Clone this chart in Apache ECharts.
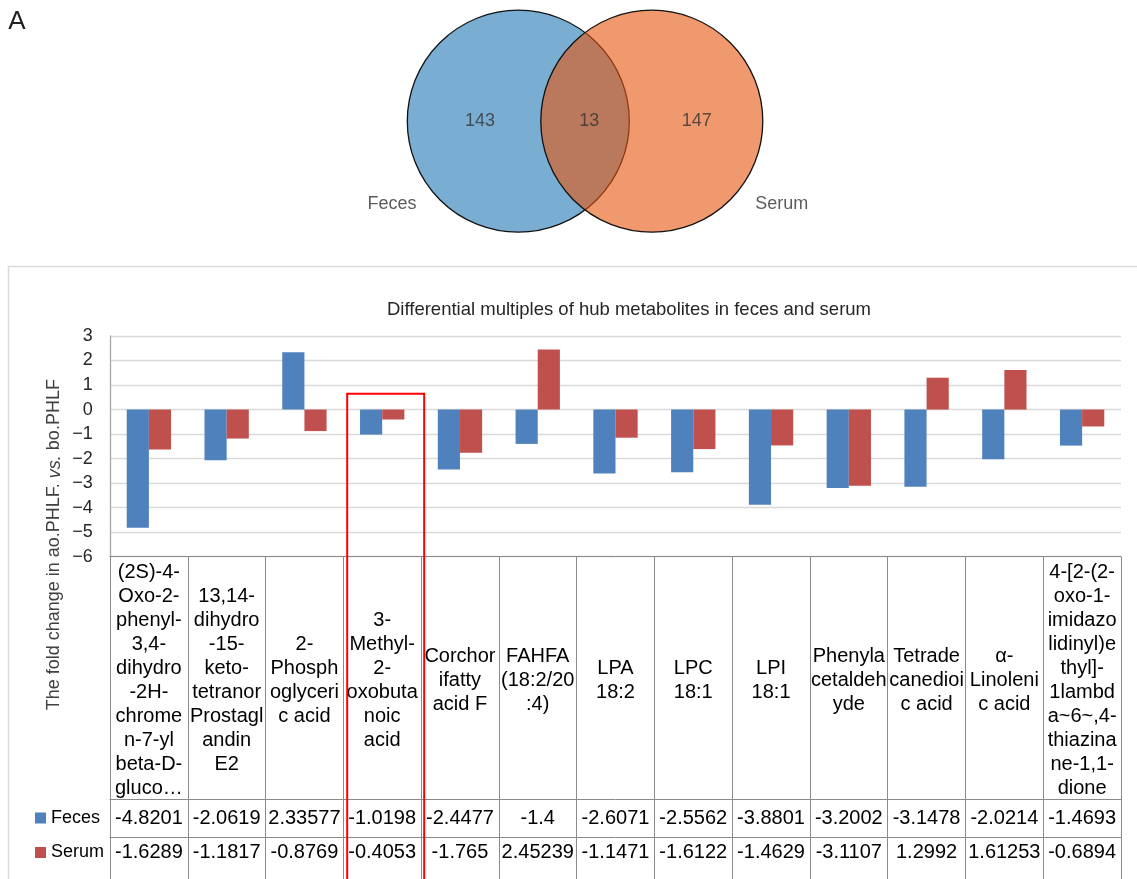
<!DOCTYPE html>
<html>
<head>
<meta charset="utf-8">
<title>Hub metabolites in feces and serum</title>
<script src="https://cdn.jsdelivr.net/npm/echarts@6.0.0/dist/echarts.min.js"></script>
<style>
  html, body { margin: 0; padding: 0; background: #ffffff; }
  #main { width: 1137px; height: 879px; }
</style>
</head>
<body>
<div id="main"></div>
<script>
// ---- data ----
const categories = [
  '(2S)-4-\nOxo-2-\nphenyl-\n3,4-\ndihydro\n-2H-\nchrome\nn-7-yl\nbeta-D-\ngluco\u2026',
  '13,14-\ndihydro\n-15-\nketo-\ntetranor\nProstagl\nandin\nE2',
  '2-\nPhosph\noglyceri\nc acid',
  '3-\nMethyl-\n2-\noxobuta\nnoic\nacid',
  'Corchor\nifatty\nacid F',
  'FAHFA\n(18:2/20\n:4)',
  'LPA\n18:2',
  'LPC\n18:1',
  'LPI\n18:1',
  'Phenyla\ncetaldeh\nyde',
  'Tetrade\ncanedioi\nc acid',
  '\u03b1-\nLinoleni\nc acid',
  '4-[2-(2-\noxo-1-\nimidazo\nlidinyl)e\nthyl]-\n1lambd\na~6~,4-\nthiazina\nne-1,1-\ndione'
];
const seriesNames = ['Feces', 'Serum'];
const feces = [-4.8201, -2.0619, 2.33577, -1.0198, -2.4477, -1.4, -2.6071, -2.5562, -3.8801, -3.2002, -3.1478, -2.0214, -1.4693];
const serum = [-1.6289, -1.1817, -0.8769, -0.4053, -1.765, 2.45239, -1.1471, -1.6122, -1.4629, -3.1107, 1.2992, 1.61253, -0.6894];
const yMin = -6, yMax = 3, yStep = 1;
const chartTitle = 'Differential multiples of hub metabolites in feces and serum';
const yName = ['The fold change in ao.PHLF. ', 'vs.', ' bo.PHLF'];
const highlighted = 3;           // column framed in red
const highlightTop = 0.65;       // value where the red frame starts

const vennSets = ['Feces', 'Serum'];
const vennCounts = [143, 13, 147];   // Feces only, shared, Serum only
const panelLetter = 'A';

// ---- styling ----
const FONT = '"Liberation Sans", Arial, Helvetica, sans-serif';
const BLUE = '#4F81BD', RED = '#C0504D';
const TABLE_LINE = '#8a8a8a';
const GRID_LINE = '#d9d9d9';

// venn layout in its own unit space: set centres at x = 0 and x = 1
const vennFill = ['rgba(31,120,180,0.6)', 'rgba(230,85,13,0.6)'];
const countX = [-0.287, 0.532, 1.336];
const setLabelX = [-0.946, 1.973];
const setLabelY = -0.83;

const chart = echarts.init(document.getElementById('main'), null, { renderer: 'canvas' });

function tableAxis(values, offset, tickLen, margin) {
  return {
    type: 'category', gridIndex: 0, position: 'bottom', offset: offset,
    data: categories,
    axisLine: { show: true, onZero: false, lineStyle: { color: TABLE_LINE, width: 1 } },
    axisTick: { show: true, interval: 0, length: tickLen, lineStyle: { color: TABLE_LINE, width: 1 } },
    axisLabel: {
      interval: 0, hideOverlap: false, margin: margin, verticalAlign: 'middle',
      fontSize: 20, color: '#000', fontFamily: FONT,
      formatter: function (v, i) { return String(values[i]); }
    },
    splitLine: { show: false }
  };
}

const option = {
  animation: false,
  backgroundColor: '#ffffff',
  title: {
    text: chartTitle, left: 387, top: 300, padding: 0,
    textStyle: { fontSize: 18.5, fontWeight: 'normal', color: '#262626', fontFamily: FONT }
  },
  legend: {
    data: seriesNames, orient: 'vertical', left: 35, top: 809, padding: 0,
    itemWidth: 11, itemHeight: 11, itemGap: 16.5, icon: 'rect', selectedMode: false,
    textStyle: { fontSize: 18, lineHeight: 18, color: '#000', fontFamily: FONT }
  },
  grid: [
    { left: 110, right: 16, top: 336, bottom: 322.3, outerBoundsMode: 'none' },
    { left: 384.8, width: 400.5, top: 21.2, height: 200, outerBoundsMode: 'none' }
  ],
  xAxis: [
    {
      type: 'category', gridIndex: 0, position: 'bottom', data: categories,
      axisLine: { show: true, onZero: false, lineStyle: { color: TABLE_LINE, width: 1 } },
      axisTick: { show: true, interval: 0, length: 242.3, lineStyle: { color: TABLE_LINE, width: 1 } },
      axisLabel: {
        interval: 0, hideOverlap: false, margin: 123.3, verticalAlign: 'middle',
        fontSize: 20, lineHeight: 24, color: '#000', fontFamily: FONT
      },
      splitLine: { show: false }
    },
    tableAxis(feces, 242.3, 38.3, 19),
    tableAxis(serum, 280.6, 60, 15),
    { type: 'value', gridIndex: 1, min: -1, max: 2, show: false }
  ],
  yAxis: [
    {
      type: 'value', gridIndex: 0, min: yMin, max: yMax, interval: yStep,
      axisLine: { show: true, lineStyle: { color: '#a6a6a6', width: 1.3 } },
      axisTick: { show: false },
      axisLabel: {
        margin: 17.3, fontSize: 18, color: '#262626', fontFamily: FONT,
        formatter: function (v) { return String(v).replace('-', '\u2212'); }
      },
      splitLine: { show: true, lineStyle: { color: GRID_LINE, width: 1.3 } }
    },
    { type: 'value', gridIndex: 1, min: -1, max: 1, show: false }
  ],
  series: [
    {
      name: seriesNames[0], type: 'bar', xAxisIndex: 0, yAxisIndex: 0, data: feces,
      barGap: '0%', barCategoryGap: '43%', silent: true,
      itemStyle: { color: BLUE }
    },
    {
      name: seriesNames[1], type: 'bar', xAxisIndex: 0, yAxisIndex: 0, data: serum,
      barGap: '0%', barCategoryGap: '43%', silent: true,
      itemStyle: { color: RED }
    },
    {
      name: 'venn-sets', type: 'scatter', xAxisIndex: 3, yAxisIndex: 1, silent: true,
      symbol: 'circle', symbolSize: 222, z: 3,
      data: vennSets.map(function (s, i) {
        return { value: [i, 0], itemStyle: { color: vennFill[i], borderColor: '#111', borderWidth: 1.3, opacity: 1 } };
      }),
      label: { show: false }
    },
    {
      name: 'venn-counts', type: 'scatter', xAxisIndex: 3, yAxisIndex: 1, silent: true,
      symbolSize: 0, z: 4,
      data: vennCounts.map(function (c, i) { return [countX[i], 0]; }),
      label: {
        show: true, position: 'inside', fontSize: 18, color: '#333', fontFamily: FONT,
        formatter: function (p) { return String(vennCounts[p.dataIndex]); }
      }
    },
    {
      name: 'venn-names', type: 'scatter', xAxisIndex: 3, yAxisIndex: 1, silent: true,
      symbolSize: 0, z: 4,
      data: vennSets.map(function (s, i) { return [setLabelX[i], setLabelY]; }),
      label: {
        show: true, position: 'inside', fontSize: 18, color: '#333', fontFamily: FONT,
        formatter: function (p) { return vennSets[p.dataIndex]; }
      }
    }
  ],
  graphic: [
    {
      id: 'panel', type: 'rect', silent: true, z: -1,
      shape: { x: 8.5, y: 266.5, width: 1200, height: 700 },
      style: { fill: 'none', stroke: '#d9d9d9', lineWidth: 1.5 }
    },
    {
      id: 'letter', type: 'text', silent: true, x: 17, y: 22,
      style: { text: panelLetter, font: '26px ' + FONT, fill: '#222', align: 'center', verticalAlign: 'middle' }
    },
    {
      id: 'yname', type: 'text', silent: true, x: 54.5, y: 544.7, rotation: Math.PI / 2,
      style: {
        text: '{n|' + yName[0] + '}{i|' + yName[1] + '}{n|' + yName[2] + '}',
        align: 'center', verticalAlign: 'middle', fill: '#404040',
        rich: {
          n: { fontSize: 18, fontFamily: FONT, fill: '#404040' },
          i: { fontSize: 18, fontFamily: FONT, fontStyle: 'italic', fill: '#404040' }
        }
      }
    }
  ]
};

chart.setOption(option);

// red frame around the highlighted column, placed through the axis scales
const c0 = chart.convertToPixel({ seriesIndex: 0 }, [highlighted, highlightTop]);
const c1 = chart.convertToPixel({ seriesIndex: 0 }, [highlighted + 1, highlightTop]);
const band = c1[0] - c0[0];
chart.setOption({
  graphic: [{
    id: 'frame', type: 'rect', silent: true, z: 10,
    shape: { x: c0[0] - 0.45 * band, y: c0[1], width: 0.99 * band, height: 900 - c0[1] },
    style: { fill: 'none', stroke: '#ff0000', lineWidth: 2 }
  }]
});
</script>
</body>
</html>
